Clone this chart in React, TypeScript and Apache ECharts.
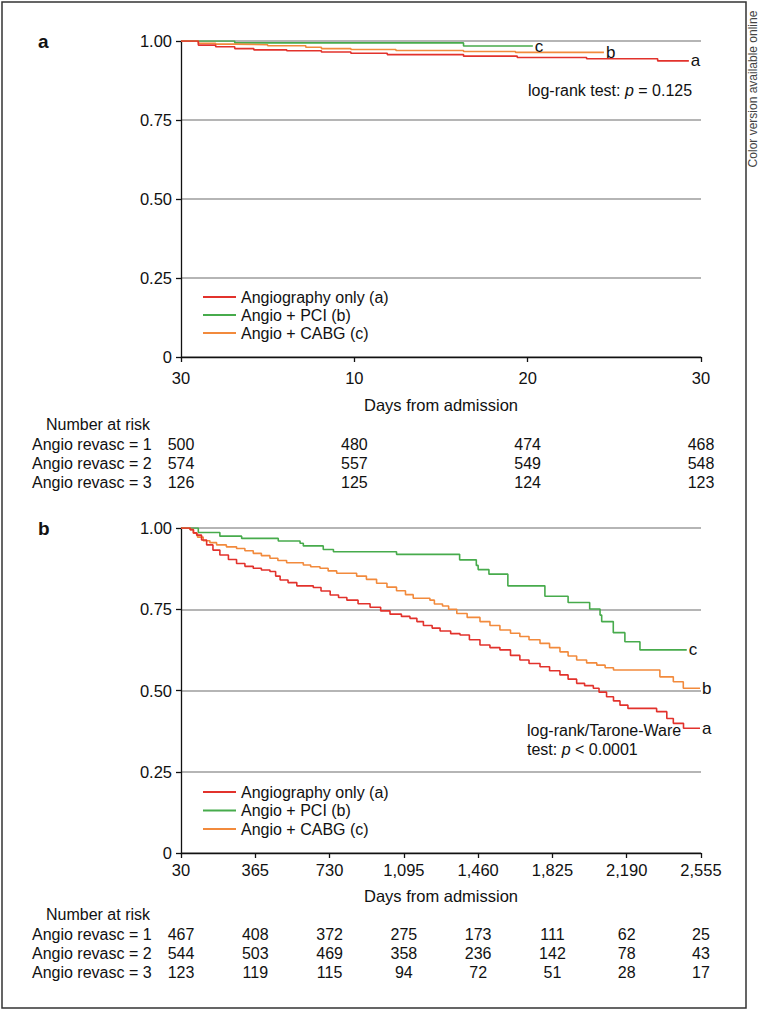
import React, { useEffect, useRef } from "react";
import * as echarts from "echarts";

const FONT = "'Liberation Sans', Arial, sans-serif";

const seriesNames = ["Angiography only (a)", "Angio + PCI (b)", "Angio + CABG (c)"];
const seriesColors = ["#e2322c", "#47ab4c", "#f28a3c"];
const endLetters = ["a", "c", "b"];

// ---------- Panel a (first 30 days) ----------
const aTickValues = [0, 10, 20, 30];
const aTickLabels = ["30", "10", "20", "30"];
const aRedDays = [0, 1.0, 2.0, 3.1, 4.2, 6.1, 8.1, 9.8, 11.9, 16.3, 19.4, 23.4, 27.5, 29.3];
const aRedSurv = [1.0, 0.987, 0.982, 0.976, 0.972, 0.969, 0.965, 0.961, 0.957, 0.952, 0.948, 0.944, 0.937, 0.937];
const aGreenDays = [0, 3.1, 16.3, 20.3];
const aGreenSurv = [1.0, 0.994, 0.984, 0.984];
const aOrangeDays = [0, 1.0, 2.0, 3.1, 5.0, 7.2, 8.1, 9.8, 12.4, 16.3, 19.3, 24.4];
const aOrangeSurv = [1.0, 0.993, 0.99, 0.988, 0.985, 0.98, 0.976, 0.973, 0.97, 0.967, 0.964, 0.964];
const aRiskRow1 = [500, 480, 474, 468];
const aRiskRow2 = [574, 557, 549, 548];
const aRiskRow3 = [126, 125, 124, 123];
const aStat = "log-rank test: ";
const aStatValue = " = 0.125";

// ---------- Panel b (long term, days 0..2555) ----------
const bTickValues = [0, 365, 730, 1095, 1460, 1825, 2190, 2555];
const bTickLabels = ["30", "365", "730", "1,095", "1,460", "1,825", "2,190", "2,555"];
const bRedDays = [0, 45, 61, 77, 101, 126, 157, 191, 233, 273, 314, 355, 395, 437, 465, 487, 526, 569, 650, 688, 733, 774, 815, 870, 929, 981, 1027, 1083, 1125, 1159, 1191, 1234, 1273, 1325, 1371, 1417, 1469, 1518, 1567, 1619, 1665, 1710, 1764, 1811, 1862, 1902, 1944, 1983, 2026, 2054, 2091, 2125, 2157, 2196, 2337, 2387, 2419, 2469, 2550];
const bRedSurv = [1.0, 0.995, 0.985, 0.978, 0.963, 0.948, 0.932, 0.917, 0.903, 0.891, 0.882, 0.876, 0.871, 0.866, 0.852, 0.84, 0.832, 0.822, 0.817, 0.806, 0.794, 0.786, 0.778, 0.767, 0.756, 0.745, 0.735, 0.728, 0.722, 0.712, 0.7, 0.692, 0.683, 0.675, 0.671, 0.656, 0.64, 0.632, 0.625, 0.608, 0.594, 0.583, 0.573, 0.561, 0.548, 0.535, 0.522, 0.515, 0.507, 0.495, 0.481, 0.468, 0.455, 0.445, 0.435, 0.414, 0.399, 0.384, 0.384];
const bGreenDays = [0, 85, 191, 298, 478, 585, 601, 699, 749, 1059, 1369, 1451, 1460, 1513, 1606, 1788, 1902, 2008, 2059, 2067, 2124, 2181, 2255, 2485];
const bGreenSurv = [1.0, 0.986, 0.975, 0.968, 0.96, 0.953, 0.945, 0.934, 0.927, 0.919, 0.902, 0.885, 0.872, 0.858, 0.822, 0.79, 0.771, 0.751, 0.732, 0.712, 0.678, 0.65, 0.625, 0.625];
const bOrangeDays = [0, 45, 61, 81, 109, 142, 175, 223, 273, 314, 355, 395, 437, 476, 519, 601, 637, 683, 723, 765, 863, 911, 961, 1012, 1059, 1103, 1141, 1223, 1245, 1285, 1315, 1355, 1406, 1469, 1518, 1567, 1619, 1665, 1710, 1764, 1811, 1862, 1902, 1944, 1993, 2043, 2084, 2125, 2353, 2419, 2468, 2550];
const bOrangeSurv = [1.0, 0.995, 0.984, 0.972, 0.961, 0.955, 0.948, 0.942, 0.937, 0.93, 0.922, 0.915, 0.907, 0.9, 0.893, 0.886, 0.881, 0.876, 0.868, 0.861, 0.852, 0.842, 0.83, 0.818, 0.807, 0.795, 0.784, 0.778, 0.766, 0.76, 0.75, 0.737, 0.725, 0.712, 0.7, 0.686, 0.676, 0.666, 0.656, 0.645, 0.632, 0.619, 0.606, 0.594, 0.585, 0.578, 0.57, 0.563, 0.542, 0.527, 0.507, 0.507];
const bRiskRow1 = [467, 408, 372, 275, 173, 111, 62, 25];
const bRiskRow2 = [544, 503, 469, 358, 236, 142, 78, 43];
const bRiskRow3 = [123, 119, 115, 94, 72, 51, 28, 17];
const bStatLine1 = "log-rank/Tarone-Ware";
const bStatLine2a = "test: ";
const bStatLine2b = " < 0.0001";

const riskTitle = "Number at risk";
const riskLabels = ["Angio revasc = 1", "Angio revasc = 2", "Angio revasc = 3"];
const xTitle = "Days from admission";
const sideNote = "Color version available online";

const FS = 16;
const FS_AXIS = 16.5;

function pairs(days: number[], surv: number[]) {
  return days.map((d, i) => [d, surv[i]]);
}

function makeSeries(panel: number, data: number[][][]) {
  // draw order: green, orange, red (red on top)
  const order = [1, 2, 0];
  return order.map((k) => ({
    type: "line",
    name: seriesNames[k],
    xAxisIndex: panel,
    yAxisIndex: panel,
    data: data[k],
    step: "end",
    showSymbol: false,
    symbol: "none",
    lineStyle: { color: seriesColors[k], width: 1.6 },
    itemStyle: { color: seriesColors[k] },
    endLabel: {
      show: true,
      formatter: endLetters[k],
      color: "#111",
      fontSize: 17,
      fontFamily: FONT,
      distance: 2,
    },
    emphasis: { disabled: true },
  }));
}

function yAxisCfg(grid: number) {
  return {
    type: "value",
    gridIndex: grid,
    min: 0,
    max: 1,
    interval: 0.25,
    axisLine: { show: true, lineStyle: { color: "#111", width: 1.3 } },
    axisTick: { show: true, length: 5, lineStyle: { color: "#111", width: 1.3 } },
    axisLabel: {
      color: "#111",
      fontSize: FS_AXIS,
      fontFamily: FONT,
      margin: 9,
      formatter: (v: number) => (v === 0 ? "0" : v.toFixed(2)),
    },
    splitLine: { show: true, lineStyle: { color: "#9c9c9c", width: 1.5 } },
  };
}

function xAxisCfg(
  grid: number,
  max: number,
  interval: number,
  ticks: number[],
  labels: string[],
  margin: number,
  nameGap: number
) {
  return {
    type: "value",
    gridIndex: grid,
    min: 0,
    max,
    interval,
    axisLine: { show: true, onZero: false, lineStyle: { color: "#111", width: 1.3 } },
    axisTick: { show: true, length: 5, lineStyle: { color: "#111", width: 1.3 } },
    axisLabel: {
      color: "#111",
      fontSize: FS_AXIS,
      fontFamily: FONT,
      margin,
      formatter: (v: number) => labels[ticks.indexOf(Math.round(v))] ?? "",
    },
    splitLine: { show: false },
    name: xTitle,
    nameLocation: "middle",
    nameGap,
    nameTextStyle: { color: "#111", fontSize: FS_AXIS, fontFamily: FONT },
  };
}

export default function App() {
  const ref = useRef<HTMLDivElement>(null);

  useEffect(() => {
    const chart = echarts.init(ref.current!, null, { renderer: "svg" });

    const aData = [pairs(aRedDays, aRedSurv), pairs(aGreenDays, aGreenSurv), pairs(aOrangeDays, aOrangeSurv)];
    const bData = [pairs(bRedDays, bRedSurv), pairs(bGreenDays, bGreenSurv), pairs(bOrangeDays, bOrangeSurv)];

    const legendCommon = {
      data: [seriesNames[0], seriesNames[1], seriesNames[2]],
      orient: "vertical",
      left: 203,
      icon: "rect",
      itemWidth: 33,
      itemHeight: 2,
      padding: 0,
      selectedMode: false,
      textStyle: { color: "#111", fontSize: FS, fontFamily: FONT, lineHeight: 16 },
    };

    const option: any = {
      animation: false,
      backgroundColor: "#fff",
      textStyle: { fontFamily: FONT },
      grid: [
        { left: 181, top: 41, width: 520, height: 316 },
        { left: 181, top: 528, width: 520, height: 325 },
      ],
      legend: [
        { ...legendCommon, top: 289, itemGap: 2 },
        { ...legendCommon, top: 784, itemGap: 2.5 },
      ],
      xAxis: [
        xAxisCfg(0, 30, 10, aTickValues, aTickLabels, 12, 39),
        xAxisCfg(1, 2555, 365, bTickValues, bTickLabels, 8, 34),
      ],
      yAxis: [yAxisCfg(0), yAxisCfg(1)],
      series: [...makeSeries(0, aData), ...makeSeries(1, bData)],
    };
    chart.setOption(option);

    const font = (size: number, weight = "normal") => ({ fontSize: size, fontFamily: FONT, fontWeight: weight });
    const graphics: any[] = [];
    const txt = (x: number, y: number, text: string, align = "left", extra: any = {}) =>
      graphics.push({
        type: "text",
        x,
        y,
        silent: true,
        style: { text, fill: "#111", align, verticalAlign: "middle", ...font(FS), ...extra },
      });

    // outer frame and side note
    graphics.push({
      type: "rect",
      silent: true,
      shape: { x: 2, y: 2, width: 744, height: 1006 },
      style: { fill: "none", stroke: "#333", lineWidth: 1.5 },
    });
    graphics.push({
      type: "text",
      x: 753,
      y: 89,
      rotation: Math.PI / 2,
      silent: true,
      style: { text: sideNote, fill: "#444", align: "center", verticalAlign: "middle", ...font(12) },
    });

    // panel letters
    txt(38, 41, "a", "left", font(19, "bold"));
    txt(38, 528, "b", "left", font(19, "bold"));

    // stats
    const rich = {
      n: { ...font(16), fill: "#111" },
      i: { ...font(16), fontStyle: "italic", fill: "#111" },
    };
    graphics.push({
      type: "text",
      x: 528,
      y: 90,
      silent: true,
      style: { text: `{n|${aStat}}{i|p}{n|${aStatValue}}`, verticalAlign: "middle", rich },
    });
    txt(527, 730, bStatLine1, "left", font(16));
    graphics.push({
      type: "text",
      x: 527,
      y: 749,
      silent: true,
      style: { text: `{n|${bStatLine2a}}{i|p}{n|${bStatLine2b}}`, verticalAlign: "middle", rich },
    });

    // number at risk tables
    const table = (axis: number, ticks: number[], rows: number[][], titleY: number) => {
      txt(46, titleY, riskTitle);
      rows.forEach((row, r) => {
        const y = titleY + 20 + r * 19;
        txt(32, y, riskLabels[r]);
        row.forEach((n, i) => {
          const px = chart.convertToPixel({ xAxisIndex: axis }, ticks[i]) as number;
          txt(px, y, String(n), "center");
        });
      });
    };
    table(0, aTickValues, [aRiskRow1, aRiskRow2, aRiskRow3], 424);
    table(1, bTickValues, [bRiskRow1, bRiskRow2, bRiskRow3], 914);

    chart.setOption({ graphic: graphics });

    return () => chart.dispose();
  }, []);

  return (
    <div
      ref={ref}
      style={{ position: "fixed", left: 0, top: 0, width: 761, height: 1011, background: "#fff" }}
    />
  );
}
